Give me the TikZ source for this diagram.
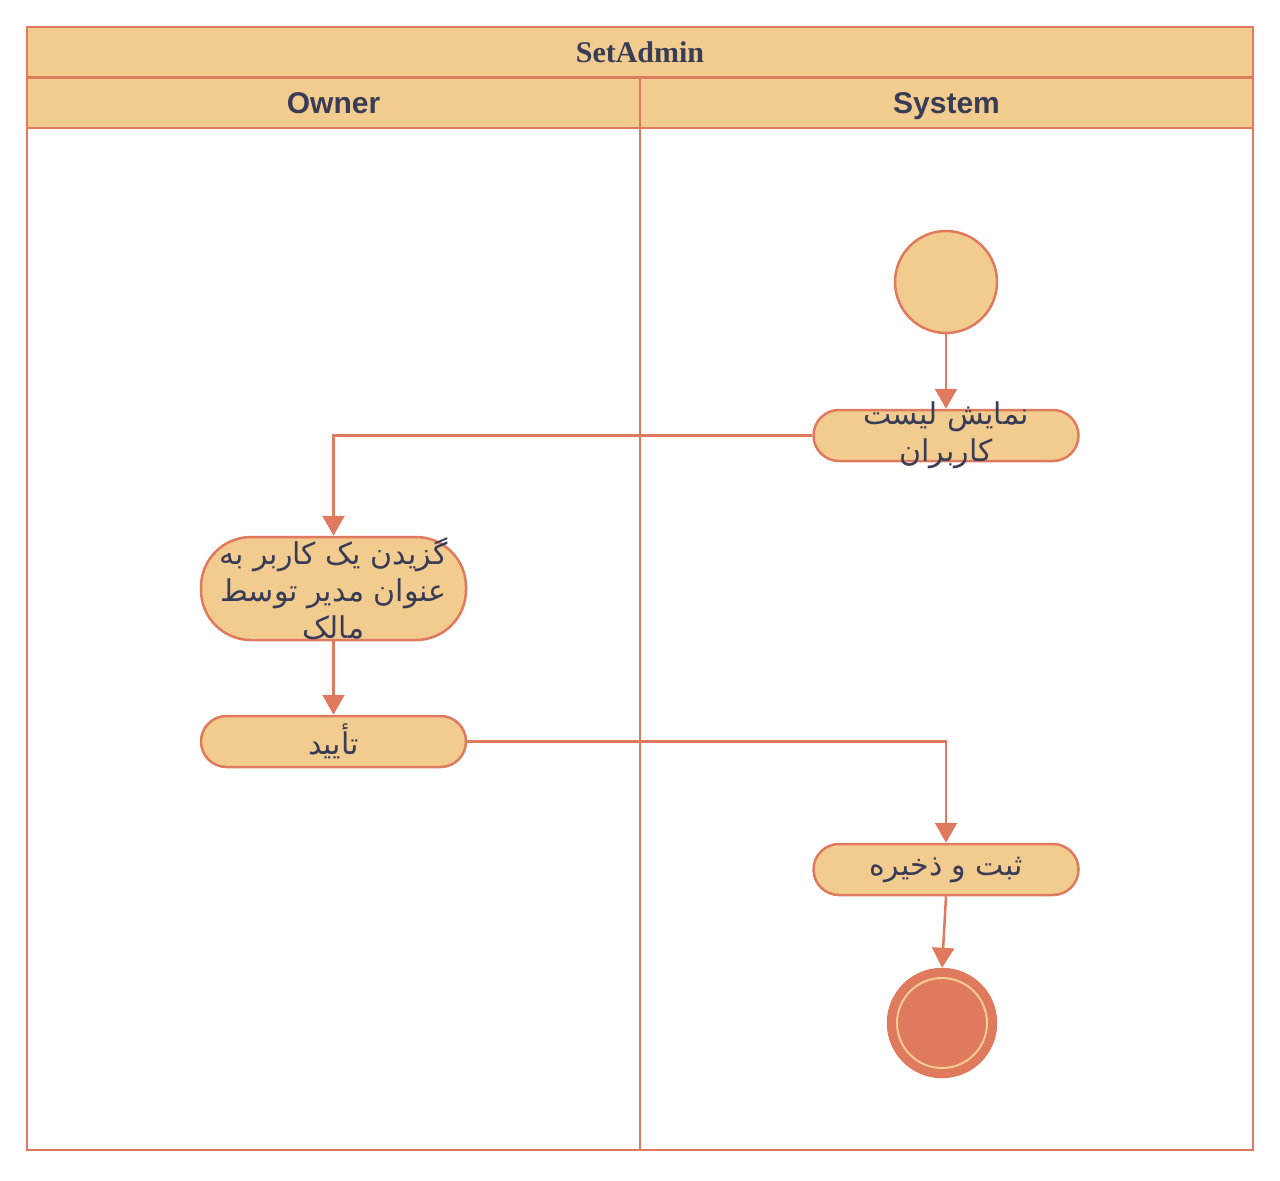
\documentclass[tikz,border=0pt]{standalone}
\usepackage{fontspec}
\setmainfont{Liberation Serif}
\setsansfont{Liberation Sans}
\newfontfamily\arabicfont[Script=Arabic]{DejaVu Sans}
\TeXXeTstate=1
\usepackage{tikz}
\usetikzlibrary{arrows.meta,positioning}
\definecolor{ink}{RGB}{57,60,86}
\definecolor{sand}{RGB}{242,204,143}
\definecolor{clay}{RGB}{224,122,95}
\tikzset{
  flow/.style={line width=1.25pt,clay,-{Triangle[length=10pt,width=11pt]}},
  lane/.style={draw=clay,line width=1.25pt},
  header/.style={lane,fill=sand,minimum height=25.25pt,inner sep=0pt,text=ink,
    text height=10.5pt,text depth=0pt},
  action/.style={draw=clay,fill=sand,line width=1.25pt,rounded corners=12.75pt,
    minimum width=132.5pt,minimum height=25.5pt,inner sep=0pt,align=center,text=ink,
    font=\arabicfont\fontsize{15}{18.5}\selectfont},
  initial/.style={circle,draw=clay,fill=sand,line width=1.25pt,minimum size=51pt,inner sep=0pt},
  final/.style={circle,draw=clay,fill=clay,line width=1.25pt,minimum size=54pt,inner sep=0pt}
}

\begin{document}
\begin{tikzpicture}[x=0.5pt,y=-0.5pt]
  \fill[white] (0,0) rectangle (1280,1180);
  \useasboundingbox (0,0) rectangle (1280,1180);
  % swimlanes
  \node[header,minimum width=613pt,font=\bfseries\fontsize{15}{18}\selectfont] (title) at (640,52) {SetAdmin};
  \node[header,minimum width=306.5pt,font=\sffamily\bfseries\fontsize{15}{18}\selectfont] (owner) at (333.5,102.5) {Owner};
  \node[header,minimum width=306.5pt,font=\sffamily\bfseries\fontsize{15}{18}\selectfont] (system) at (946.5,102.5) {System};
  \draw[lane] (27,128) rectangle (640,1150);
  \draw[lane] (640,128) rectangle (1253,1150);
  % activities
  \node[initial] (start) at (946,282) {};
  \node[action,inner ysep=-8pt] (show) at (946,435.5) {\beginR نمایش لیست\endR\\\beginR کاربران\endR};
  \node[action,minimum height=51.5pt,rounded corners=25pt] (pick) at (333.5,588.5)
    {\beginR گزیدن یک کاربر به\endR\\\beginR عنوان مدیر توسط\endR\\\beginR مالک\endR};
  \node[action] (confirm) at (333.5,741.5) {\beginR تأیید\endR};
  \node[action] (save) at (946,869.5) {\beginR ثبت و ذخیره\endR};
  \node[final] (stop) at (942,1023) {};
  \draw[sand,line width=1pt] (stop.center) circle[radius=22.5pt];
  % flows
  \draw[flow] (start) -- (show);
  \draw[flow] (show.west) -| (pick.north);
  \draw[flow] (pick) -- (confirm);
  \draw[flow] (confirm.east) -| (save.north);
  \draw[flow] (save.south) -- (stop.north);
\end{tikzpicture}
\end{document}
